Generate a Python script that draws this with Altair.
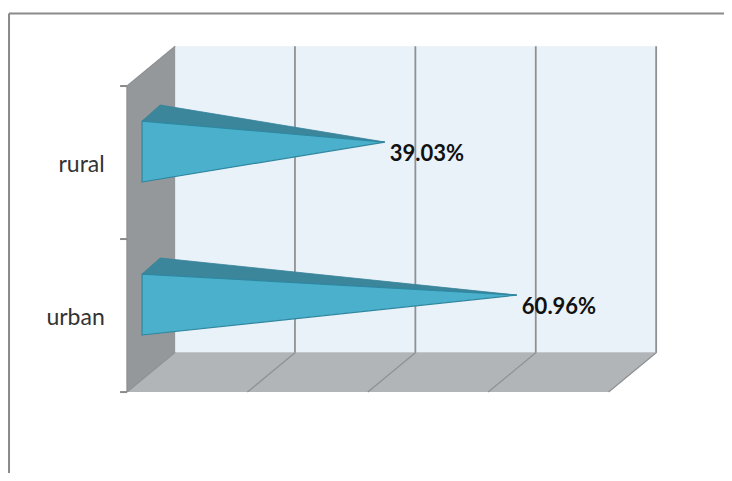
import altair as alt
import pandas as pd

categories = ["urban", "rural"]
values = [60.96, 39.03]
value_labels = ["60.96%", "39.03%"]
bases = [0, 1]

# Depth of the pseudo-3D box, in axis units
depth_x = 8
depth_y = 0.26
axis_max_x = 80
axis_max_y = 2
grid_steps = [20, 40, 60, 80]
ticks_y = [0, 1, 2]

# Bar shape, in axis units relative to each category band
bar_x0 = 2.5
bar_back_x = 5.5
apex_shift = 3.8
face_top = 0.771
face_bottom = 0.373
apex_y = 0.634
back_y = 0.876

x_left, x_right = -19.77, 99.17
y_bottom, y_top = -0.529, 2.51
x_scale = alt.Scale(domain=[x_left, x_right], range=[0, 716], nice=False, zero=False)
y_scale = alt.Scale(domain=[y_bottom, y_top], range=[465, 0], nice=False, zero=False)
X = alt.X("x:Q", scale=x_scale, axis=None)
Y = alt.Y("y:Q", scale=y_scale, axis=None)
Y2 = alt.Y2("y2:Q")


def area(rows, color, **kw):
    df = pd.DataFrame(rows, columns=["x", "y", "y2", "g"])
    return alt.Chart(df).mark_area(color=color, **kw).encode(
        x=X, y=Y, y2=Y2, detail="g:N"
    )


def segments(rows, color, width):
    df = pd.DataFrame(rows, columns=["x", "y", "x2", "y2"])
    return alt.Chart(df).mark_rule(color=color, strokeWidth=width).encode(
        x=X, y=Y, x2=alt.X2("x2:Q"), y2=Y2
    )


back_wall = area(
    [(depth_x, depth_y, axis_max_y + depth_y, "w"),
     (axis_max_x + depth_x, depth_y, axis_max_y + depth_y, "w")],
    "#e9f2f8",
)
side_wall = area(
    [(0, 0, axis_max_y, "s"),
     (depth_x, depth_y, axis_max_y + depth_y, "s")],
    "#94989a",
)
floor = area(
    [(0, 0, 0, "f"),
     (depth_x, 0, depth_y, "f"),
     (axis_max_x, 0, depth_y, "f"),
     (axis_max_x + depth_x, depth_y, depth_y, "f")],
    "#b1b5b8",
)
grid = segments(
    [(g + depth_x - 0.1, depth_y, g + depth_x - 0.1, axis_max_y + depth_y) for g in grid_steps],
    "#8e9193", 1.8,
)
diagonals = segments(
    [(g, 0, g + depth_x, depth_y) for g in grid_steps] +
    [(0, 0, depth_x, depth_y), (0, axis_max_y, depth_x, axis_max_y + depth_y)],
    "#8e9193", 1.2,
)
left_edge = segments([(0, 0, 0, axis_max_y)], "#8e9193", 1.4)
ticks = segments([(-1.15, t, 0, t) for t in ticks_y], "#8a8a8a", 2)
frame = segments(
    [(-19.6, 2.474, x_right, 2.474), (-19.6, y_bottom, -19.6, 2.474)],
    "#8a8a8a", 2,
)

top_rows, face_rows = [], []
for b, v, c in zip(bases, values, categories):
    apex = v + apex_shift
    top_rows += [
        (bar_x0, b + face_top, b + face_top, c),
        (bar_back_x, b + back_y, b + apex_y, c),
        (apex, b + apex_y, b + apex_y, c),
    ]
    face_rows += [
        (bar_x0, b + face_bottom, b + face_top, c),
        (apex, b + apex_y, b + apex_y, c),
    ]
bar_tops = area(top_rows, "#3b869b", stroke="#36839a", strokeWidth=0.8)
bar_faces = area(face_rows, "#4bb0cc", stroke="#2f87a0", strokeWidth=1.2)

cat_df = pd.DataFrame({"x": [-3.7, -3.7], "y": [b + 0.484 for b in bases], "t": categories})
cat_text = alt.Chart(cat_df).mark_text(
    font="Lato", fontSize=23, align="right", baseline="middle", color="#333333"
).encode(x=X, y=Y, text="t:N")

val_df = pd.DataFrame({
    "x": [v + apex_shift for v in values],
    "y": [b + apex_y for b in bases],
    "t": value_labels,
})
val_text = alt.Chart(val_df).mark_text(
    font="Lato", fontSize=22, fontWeight="bold", align="left", baseline="middle",
    dx=5, dy=12, color="#111111"
).encode(x=X, y=Y, text="t:N")

chart = alt.layer(
    frame, back_wall, side_wall, floor, grid, diagonals, left_edge, ticks,
    bar_tops, bar_faces, cat_text, val_text,
).properties(
    width=716, height=465, padding=0, autosize=alt.AutoSizeParams(type="none"),
    background="white",
).configure_view(stroke=None)

chart.save("out.html", embed_options={"renderer": "svg", "actions": False})
